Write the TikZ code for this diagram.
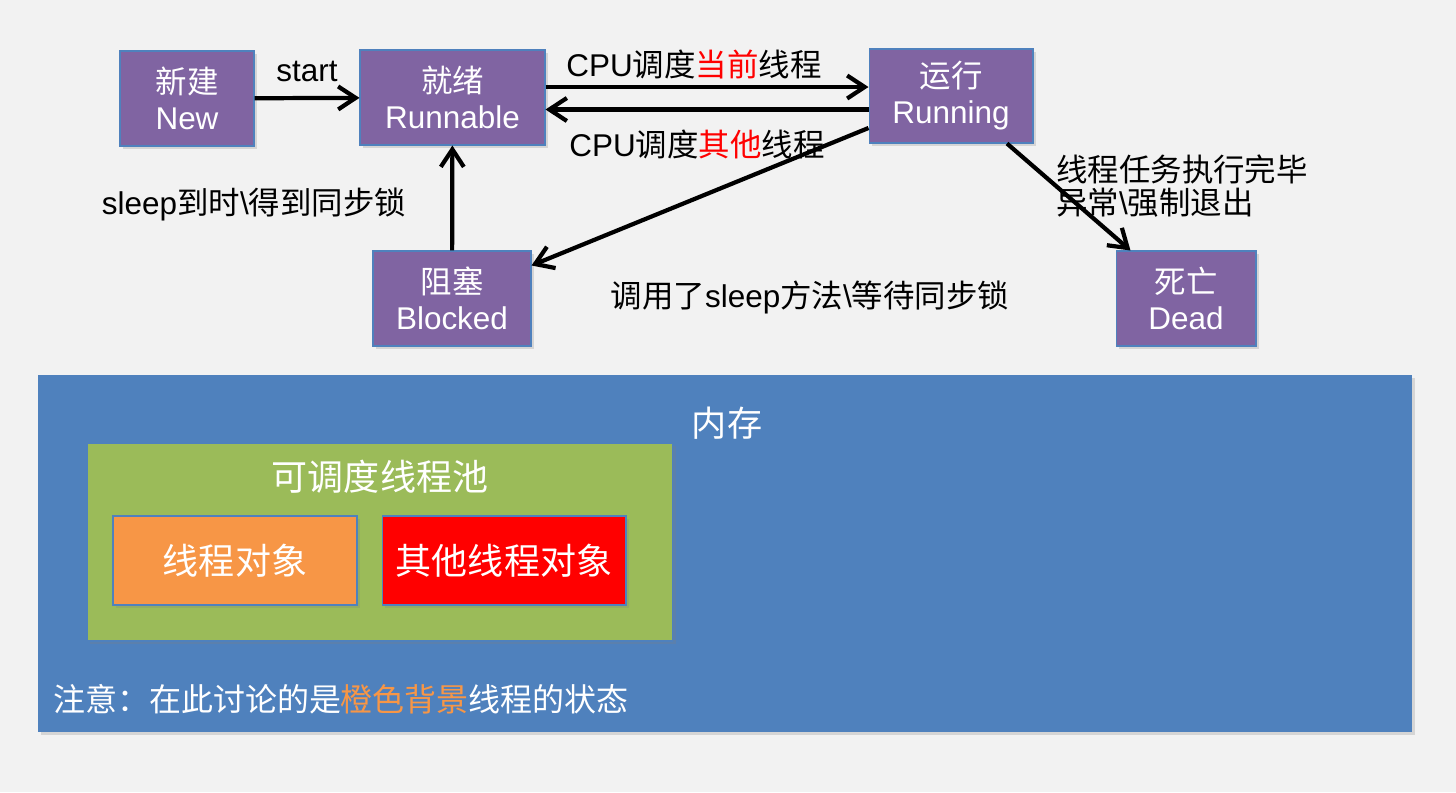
\documentclass[tikz,border=0pt]{standalone}
\usepackage{fontspec}
\setmainfont{Liberation Sans}
\newfontfamily\cjk{Noto Sans CJK SC}
\usetikzlibrary{arrows.meta}
\usetikzlibrary{shadows}
\definecolor{StPurple}{RGB}{128,100,162}
\definecolor{MemBlue}{RGB}{79,129,189}
\definecolor{PoolGreen}{RGB}{155,187,89}
\definecolor{ObjOrange}{RGB}{247,150,70}
\definecolor{BgGray}{RGB}{242,242,242}

\begin{document}
\begin{tikzpicture}[x=0.02cm, y=-0.02cm]
	\tikzstyle{shade} = [drop shadow={opacity=0.25, shadow xshift=1.5pt, shadow yshift=-1.5pt}]
	\tikzstyle{stbox} = [draw=MemBlue, line width=0.6pt, fill=StPurple, text=white, align=center, minimum height=1.9cm, font=\fontsize{17.9}{20.5}\selectfont, shade]
	\tikzstyle{membox} = [draw=MemBlue, line width=0.6pt, text=white, font=\cjk\fontsize{20.5}{24}\selectfont, shade]
	\tikzstyle{go} = [draw, line width=2.4pt, -{Straight Barb[length=3.5mm, width=4.6mm]}]
	\tikzstyle{lbl} = [font=\fontsize{17.9}{20.5}\selectfont]

	\fill[BgGray] (0,0) rectangle (1456,792);
	\useasboundingbox (0,0) rectangle (1456,792);

	% thread states
	\node[stbox, minimum width=2.68cm] (new) at (187,98.5) {{\cjk 新建}\\New};
	\node[stbox, minimum width=3.7cm] (run) at (452.5,97.5) {{\cjk 就绪}\\Runnable};
	\node[stbox, minimum width=3.28cm, minimum height=1.88cm] (running) at (951,96) {{\cjk 运行}\\Running};
	\node[stbox, minimum width=3.16cm] (blk) at (452,298.5) {{\cjk 阻塞}\\Blocked};
	\node[stbox, minimum width=2.8cm] (dead) at (1186,298.5) {{\cjk 死亡}\\Dead};

	% memory
	\node[membox, draw=none, fill=MemBlue, minimum width=27.48cm, minimum height=7.14cm] (mem) at (725,553.5) {};
	\node[text=white, font=\cjk\fontsize{20}{24}\selectfont] (memlbl) at (727,423) {内存};
	\node[membox, fill=PoolGreen, minimum width=11.72cm, minimum height=3.96cm] (pool) at (380,542) {};
	\node[text=white, font=\cjk\fontsize{20.5}{24}\selectfont] (poollbl) at (380,477) {可调度线程池};
	\node[membox, fill=ObjOrange, minimum width=4.88cm, minimum height=1.78cm] (obj) at (235,560.5) {线程对象};
	\node[membox, fill=red, minimum width=4.88cm, minimum height=1.78cm] (other) at (504,560.5) {其他线程对象};
	\node[anchor=west, text=white, font=\cjk\fontsize{18.2}{21}\selectfont] (note) at (47,699) {注意：在此讨论的是\textcolor{ObjOrange}{橙色背景}线程的状态};

	% transitions
	\draw[go] (new) -- node[lbl, above=0.17cm] {start} (run);
	\draw[go] ([yshift=0.21cm]run.east) -- ([yshift=0.21cm]run.east -| running.west) node[lbl, midway, above=0cm, xshift=-0.26cm] {CPU{\cjk 调度\textcolor{red}{当前}线程}};
	\draw[go] ([yshift=-0.27cm]running.west) -- ([yshift=-0.27cm]running.west -| run.east) node[lbl, midway, below=0.25cm, xshift=-0.2cm] {CPU{\cjk 调度\textcolor{red}{其他}线程}};
	\draw[go] (blk) -- (run);
	\draw[go] ([yshift=-0.64cm]running.west) -- ([yshift=-0.3cm]blk.north east);
	\draw[go] ([xshift=1.12cm]running.south) -- ([xshift=0.3cm]dead.north west);

	\node[lbl] (sleeplbl) at (254,204) {sleep{\cjk 到时}\textbackslash{\cjk 得到同步锁}};
	\node[lbl] (calllbl) at (810,297) {{\cjk 调用了}sleep{\cjk 方法}\textbackslash{\cjk 等待同步锁}};
	\node[lbl, anchor=west, align=left, font=\fontsize{17.9}{18.8}\selectfont] (deadlbl) at (1050,186) {{\cjk 线程任务执行完毕}\\{\cjk 异常}\textbackslash{\cjk 强制退出}};
\end{tikzpicture}
\end{document}
